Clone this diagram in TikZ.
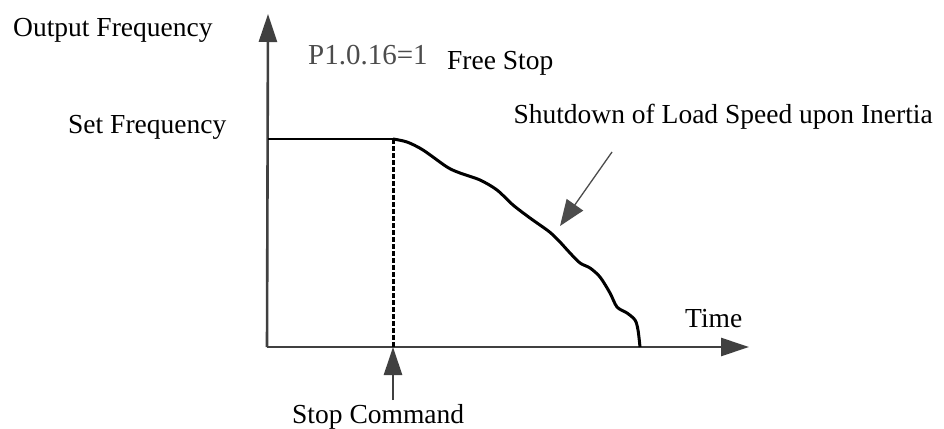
\documentclass[tikz,border=0pt]{standalone}
\usepackage{fontspec}
\setmainfont{Liberation Serif}
\usepackage{xcolor}
\usetikzlibrary{arrows.meta}

\tikzset{
  axis/.style={line width=2.6pt, draw=black!75, -{Triangle[length=28pt,width=18pt]}},
  lbl/.style={font=\fontsize{27.5}{32}\selectfont, anchor=base west, inner sep=0pt},
  pointer/.style={line width=1.3pt, draw=black!70, -{Triangle[length=26pt,width=20pt]}}
}

\begin{document}
\begin{tikzpicture}[x=1pt, y=-1pt]
    \useasboundingbox (0,0) rectangle (944,428);

    % Axes  (pixel grid, y pointing down)
    \coordinate (origin) at (267,347);
    \coordinate (ytip) at (268,14);
    \coordinate (xtip) at (749,347);
    \draw[axis] (origin) -- (ytip);
    \draw[axis] (origin) -- (xtip);

    % Axis labels
    \node[lbl] (outfreq) at (13,37) {Output Frequency};
    \node[lbl] (setfreq) at (68,133) {Set Frequency};
    \node[lbl] (time) at (685,327) {Time};

    % Set frequency level, then stop command
    \coordinate (stop) at (393,139);
    \coordinate (stopfoot) at (393,347);
    \draw[line width=2.6pt] (268,139) -- (stop);
    \draw[line width=3pt, dash pattern=on 4.5pt off 2.5pt] (stop) -- (stopfoot);

    % Parameter text
    \node[font=\fontsize{29}{32}\selectfont, text=black!70, anchor=base west, inner sep=0pt] (param) at (308,64) {P1.0.16=1};
    \node[lbl] (freestop) at (447,69) {Free Stop};

    % Coasting curve: shutdown upon inertia
    \draw[line width=3pt, line join=round] plot[smooth, tension=0.5] coordinates {
      (393,139) (407,142) (423,150) (447,167) (460,173) (480,180)
      (497,190) (513,205) (530,218) (547,230) (553,235) (560,242)
      (570,253) (580,263) (590,268) (600,277) (610,293) (617,307)
      (627,313) (635,320) (638,330) (640,347)};

    % Curve label and pointer
    \node[lbl, anchor=base east] (shutdown) at (933,123) {Shutdown of Load Speed upon Inertia};
    \coordinate (pfrom) at (612,152);
    \coordinate (pto) at (560,226);
    \draw[pointer] (pfrom) -- (pto);

    % Stop command label and arrow
    \node[lbl] (stopcmd) at (292,423) {Stop Command};
    \coordinate (cmdtail) at (393,400);
    \draw[axis] (cmdtail) -- (stopfoot);
\end{tikzpicture}
\end{document}
